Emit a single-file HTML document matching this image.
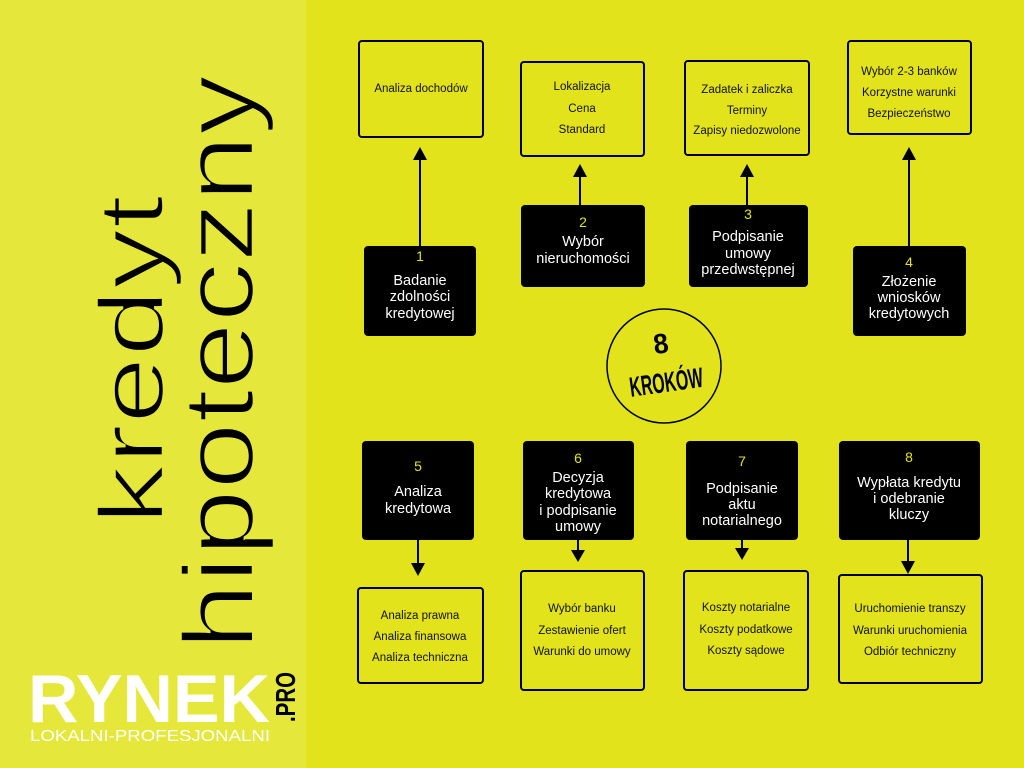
<!DOCTYPE html>
<html><head><meta charset="utf-8"><style>
html,body{margin:0;padding:0;width:1024px;height:768px;overflow:hidden;background:#e2e31a}
svg{display:block}
</style></head><body>
<svg width="1024" height="768" viewBox="0 0 1024 768" xmlns="http://www.w3.org/2000/svg" font-family="Liberation Sans, sans-serif">
<rect x="0" y="0" width="1024" height="768" fill="#e2e31a"/>
<rect x="0" y="0" width="306" height="768" fill="#e5e83a"/>

<!-- title -->
<text transform="translate(163,525) rotate(-90)" font-size="92" fill="#000" stroke="#e5e83a" stroke-width="2.5" textLength="330" lengthAdjust="spacingAndGlyphs">kredyt</text>
<text transform="translate(253,650) rotate(-90)" font-size="100" fill="#000" stroke="#e5e83a" stroke-width="2.5" textLength="575" lengthAdjust="spacingAndGlyphs">hipoteczny</text>

<!-- logo -->
<text x="28" y="722" font-size="68" font-weight="bold" fill="#fff" textLength="242" lengthAdjust="spacingAndGlyphs">RYNEK</text>
<text transform="translate(295,722) rotate(-90)" font-size="28" font-weight="bold" fill="#000" textLength="50" lengthAdjust="spacingAndGlyphs">.PRO</text>
<text x="30" y="741" font-size="16" fill="#fff" textLength="240" lengthAdjust="spacingAndGlyphs">LOKALNI-PROFESJONALNI</text>

<g fill="none" stroke="#000" stroke-width="2">
<rect x="359" y="41" width="124" height="96" rx="3"/>
<rect x="521" y="62" width="123" height="94" rx="3"/>
<rect x="685" y="61" width="124" height="94" rx="3"/>
<rect x="848" y="41" width="123" height="93" rx="3"/>
<rect x="358" y="588" width="125" height="95" rx="3"/>
<rect x="521" y="571" width="123" height="119" rx="3"/>
<rect x="684" y="571" width="124" height="119" rx="3"/>
<rect x="839" y="575" width="143" height="108" rx="3"/>
<circle cx="664" cy="366" r="57" stroke-width="1.5"/>
<line x1="420" y1="246" x2="420" y2="158"/>
<line x1="580" y1="205" x2="580" y2="175"/>
<line x1="747" y1="205" x2="747" y2="175"/>
<line x1="909" y1="246" x2="909" y2="158"/>
<line x1="418" y1="540" x2="418" y2="565"/>
<line x1="578" y1="540" x2="578" y2="552"/>
<line x1="742" y1="540" x2="742" y2="550"/>
<line x1="908" y1="540" x2="908" y2="563"/>
</g>
<g fill="#000">
<polygon points="413,160 427,160 420,147"/>
<polygon points="573,177 587,177 580,164"/>
<polygon points="740,177 754,177 747,164"/>
<polygon points="902,160 916,160 909,147"/>
<polygon points="411,563 425,563 418,576"/>
<polygon points="571,550 585,550 578,562"/>
<polygon points="735,548 749,548 742,560"/>
<polygon points="901,561 915,561 908,574"/>
<rect x="364" y="246" width="112" height="90" rx="4"/>
<rect x="521" y="205" width="124" height="82" rx="4"/>
<rect x="689" y="205" width="119" height="82" rx="4"/>
<rect x="853" y="246" width="113" height="90" rx="4"/>
<rect x="362" y="441" width="112" height="99" rx="4"/>
<rect x="523" y="441" width="111" height="99" rx="4"/>
<rect x="686" y="441" width="112" height="99" rx="4"/>
<rect x="839" y="441" width="141" height="99" rx="4"/>
</g>

<g transform="rotate(-8 664 366)" font-weight="bold" fill="#000" text-anchor="middle">
<text x="664" y="353" font-size="28" textLength="15" lengthAdjust="spacingAndGlyphs">8</text>
<text x="664" y="392" font-size="28" textLength="74" lengthAdjust="spacingAndGlyphs">KROKÓW</text>
</g>

<g font-size="11.5" fill="#111" text-anchor="middle" dominant-baseline="central">
<text x="421" y="89">Analiza dochodów</text>
<text x="582" y="87">Lokalizacja</text><text x="582" y="109">Cena</text><text x="582" y="130">Standard</text>
<text x="747" y="90">Zadatek i zaliczka</text><text x="747" y="111">Terminy</text><text x="747" y="131">Zapisy niedozwolone</text>
<text x="909" y="72">Wybór 2-3 banków</text><text x="909" y="93">Korzystne warunki</text><text x="909" y="114">Bezpieczeństwo</text>
<text x="420" y="616">Analiza prawna</text><text x="420" y="637">Analiza finansowa</text><text x="420" y="658">Analiza techniczna</text>
<text x="582" y="609">Wybór banku</text><text x="582" y="631">Zestawienie ofert</text><text x="582" y="652">Warunki do umowy</text>
<text x="746" y="608">Koszty notarialne</text><text x="746" y="630">Koszty podatkowe</text><text x="746" y="651">Koszty sądowe</text>
<text x="910" y="609">Uruchomienie transzy</text><text x="910" y="631">Warunki uruchomienia</text><text x="910" y="652">Odbiór techniczny</text>
</g>

<g font-size="14" fill="#e2e31a" text-anchor="middle" dominant-baseline="central">
<text x="420" y="256">1</text><text x="583" y="222">2</text><text x="748" y="214">3</text><text x="909" y="262">4</text>
<text x="418" y="466">5</text><text x="578" y="458">6</text><text x="742" y="461">7</text><text x="909" y="457">8</text>
</g>
<g font-size="14.5" fill="#fff" text-anchor="middle" dominant-baseline="central">
<text x="420" y="281">Badanie</text><text x="420" y="297">zdolności</text><text x="420" y="314">kredytowej</text>
<text x="583" y="242">Wybór</text><text x="583" y="259">nieruchomości</text>
<text x="748" y="237">Podpisanie</text><text x="748" y="254">umowy</text><text x="748" y="270">przedwstępnej</text>
<text x="909" y="282">Złożenie</text><text x="909" y="298">wniosków</text><text x="909" y="314">kredytowych</text>
<text x="418" y="492">Analiza</text><text x="418" y="509">kredytowa</text>
<text x="578" y="478">Decyzja</text><text x="578" y="494">kredytowa</text><text x="578" y="511">i podpisanie</text><text x="578" y="527">umowy</text>
<text x="742" y="489">Podpisanie</text><text x="742" y="505">aktu</text><text x="742" y="521">notarialnego</text>
<text x="909" y="483">Wypłata kredytu</text><text x="909" y="499">i odebranie</text><text x="909" y="515">kluczy</text>
</g>
</svg>
</body></html>
